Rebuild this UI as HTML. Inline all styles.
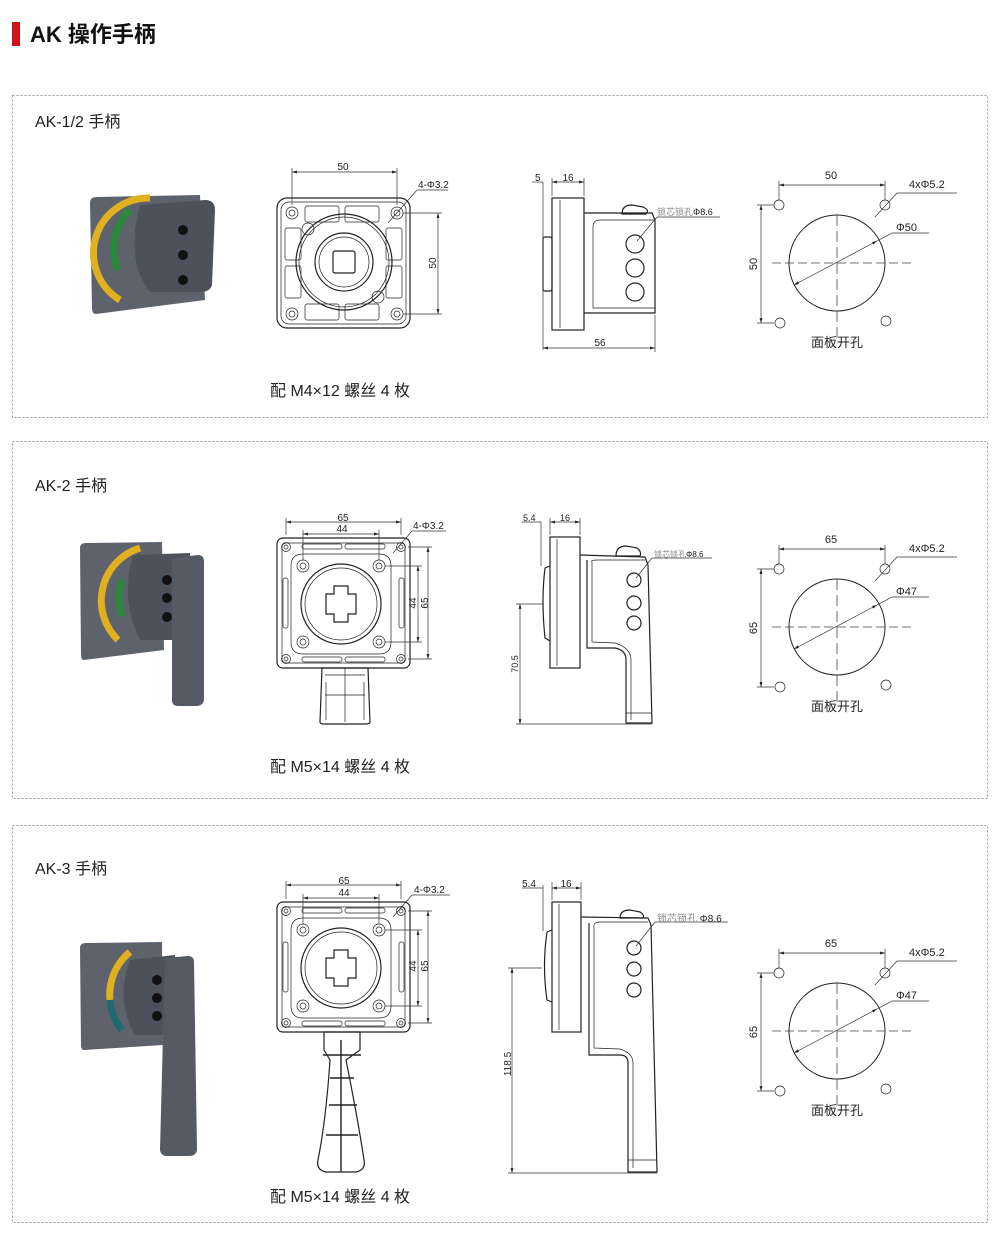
<!DOCTYPE html>
<html><head><meta charset="utf-8"><style>
html,body{margin:0;padding:0;background:#fff;}
svg{display:block;font-family:"Liberation Sans","Noto Sans CJK SC",sans-serif;}
.l{stroke:#222;fill:none;stroke-width:1.2}
.t{stroke:#222;fill:none;stroke-width:0.7}
.d{stroke:#333;fill:none;stroke-width:0.7}
.c{stroke:#444;fill:none;stroke-width:0.8;stroke-dasharray:9 4}
.s{font-size:10px;fill:#222}
.g{font-size:10px;fill:#888}
.cap{font-size:16px;fill:#222}
.ttl{font-size:16px;fill:#222}
.box{fill:none;stroke:#999;stroke-width:1;stroke-dasharray:2 2}
</style></head><body>
<svg width="1000" height="1248" viewBox="0 0 1000 1248">
<defs>
<marker id="a" viewBox="0 0 10 10" refX="10" refY="5" markerWidth="7" markerHeight="7" orient="auto-start-reverse"><path d="M0,2 L10,5 L0,8z" fill="#222"/></marker>
<symbol id="front1" overflow="visible">
 <rect x="0" y="0" width="133" height="130" rx="10" class="l" fill="#fff"/>
 <rect x="4" y="4" width="125" height="122" rx="8" class="t"/>
 <g class="t">
  <circle cx="15" cy="15" r="6"/><circle cx="15" cy="15" r="3"/>
  <circle cx="120" cy="15" r="6"/><circle cx="120" cy="15" r="3"/>
  <circle cx="15" cy="116" r="6"/><circle cx="15" cy="116" r="3"/>
  <circle cx="120" cy="116" r="6"/><circle cx="120" cy="116" r="3"/>
  <circle cx="31" cy="31" r="6"/><circle cx="101" cy="99" r="6"/>
  <rect x="28" y="8" width="34" height="16" rx="2"/><rect x="68" y="8" width="34" height="16" rx="2"/>
  <rect x="28" y="106" width="34" height="16" rx="2"/><rect x="68" y="106" width="34" height="16" rx="2"/>
  <rect x="8" y="30" width="16" height="32" rx="2"/><rect x="8" y="68" width="16" height="32" rx="2"/>
  <rect x="109" y="30" width="16" height="32" rx="2"/><rect x="109" y="68" width="16" height="32" rx="2"/>
 </g>
 <circle cx="67" cy="64" r="48" class="l"/><circle cx="67" cy="64" r="45" class="t"/>
 <circle cx="67" cy="64" r="29" class="l"/><circle cx="67" cy="64" r="25" class="t"/>
 <rect x="56" y="53" width="22" height="22" rx="2" class="l"/>
</symbol>
<symbol id="front2" overflow="visible">
 <rect x="0" y="0" width="133" height="130" rx="6" class="l" fill="#fff"/>
 <rect x="5" y="5" width="123" height="120" rx="4" class="t"/>
 <g class="t">
  <circle cx="9" cy="9" r="4.5"/><circle cx="9" cy="9" r="2"/>
  <circle cx="124" cy="9" r="4.5"/><circle cx="124" cy="9" r="2"/>
  <circle cx="9" cy="121" r="4.5"/><circle cx="9" cy="121" r="2"/>
  <circle cx="124" cy="121" r="4.5"/><circle cx="124" cy="121" r="2"/>
  <circle cx="26" cy="28" r="6"/><circle cx="26" cy="28" r="3"/>
  <circle cx="102" cy="28" r="6"/><circle cx="102" cy="28" r="3"/>
  <circle cx="26" cy="104" r="6"/><circle cx="26" cy="104" r="3"/>
  <circle cx="102" cy="104" r="6"/><circle cx="102" cy="104" r="3"/>
  <path d="M26,16 L102,16 Q114,16 114,28 L114,104 Q114,116 102,116 L26,116 Q14,116 14,104 L14,28 Q14,16 26,16z"/>
  <rect x="25" y="6" width="40" height="5" rx="2"/><rect x="68" y="6" width="40" height="5" rx="2"/>
  <rect x="25" y="119" width="40" height="5" rx="2"/><rect x="68" y="119" width="40" height="5" rx="2"/>
  <rect x="6" y="40" width="5" height="50" rx="2"/><rect x="122" y="40" width="5" height="50" rx="2"/>
 </g>
 <circle cx="64" cy="66" r="40" class="l"/><circle cx="64" cy="66" r="36" class="t"/>
 <path d="M57,48 h14 v8 h8 v20 h-8 v8 h-14 v-8 h-8 v-20 h8z" class="l"/>
</symbol>
<symbol id="cut" overflow="visible">
 <circle cx="0" cy="0" r="48" class="t" style="stroke-width:1"/>
 <line x1="-65" y1="0" x2="75" y2="0" class="c"/><line x1="0" y1="-48" x2="0" y2="78" class="c" style="stroke-dasharray:11 5"/>
 <circle cx="-58" cy="-58" r="5" class="t"/><circle cx="48" cy="-58" r="5" class="t"/>
 <circle cx="-57" cy="60" r="5" class="t"/><circle cx="49" cy="58" r="5" class="t"/>
 <line x1="-43" y1="22" x2="40" y2="-22" class="d" marker-start="url(#a)" marker-end="url(#a)"/>
 <line x1="40" y1="-22" x2="55" y2="-30" class="d"/>
 <line x1="-58" y1="-63" x2="-58" y2="-82" class="d"/><line x1="48" y1="-63" x2="48" y2="-82" class="d"/>
 <line x1="-58" y1="-78" x2="48" y2="-78" class="d" marker-start="url(#a)" marker-end="url(#a)"/>
 <line x1="-63" y1="-58" x2="-80" y2="-58" class="d"/><line x1="-63" y1="60" x2="-80" y2="60" class="d"/>
 <line x1="-76" y1="-58" x2="-76" y2="60" class="d" marker-start="url(#a)" marker-end="url(#a)"/>
 <line x1="38" y1="-46" x2="60" y2="-70" class="d"/><line x1="60" y1="-70" x2="120" y2="-70" class="d"/>
 <line x1="55" y1="-30" x2="92" y2="-30" class="d"/>
</symbol>
</defs>

<rect x="12" y="22" width="8" height="24" fill="#d0121b"/>
<text x="30" y="42" style="font-size:22px;font-weight:bold;fill:#111">AK 操作手柄</text>

<rect x="12.5" y="95.5" width="975" height="322" class="box"/>
<rect x="12.5" y="441.5" width="975" height="357" class="box"/>
<rect x="12.5" y="825.5" width="975" height="397" class="box"/>

<text x="35" y="127" class="ttl">AK-1/2 手柄</text>
<text x="35" y="491" class="ttl">AK-2 手柄</text>
<text x="35" y="874" class="ttl">AK-3 手柄</text>

<!-- photos -->
<g>
 <path d="M90,203 Q90,197 97,197 L200,195 L205,300 L96,314 Q92,314 92,308z" fill="#5d626c"/>
 <path d="M150,198 A55,55 0 0 0 120,300" stroke="#e0b020" stroke-width="7" fill="none"/>
 <path d="M130,210 A55,55 0 0 0 118,270" stroke="#2a8a3a" stroke-width="7" fill="none"/>
 <path d="M140,205 L205,200 Q215,200 215,210 L212,285 Q210,292 200,292 L150,292 Q125,260 140,205z" fill="#4c515b"/>
 <circle cx="183" cy="230" r="5" fill="#111"/><circle cx="183" cy="255" r="5" fill="#111"/><circle cx="183" cy="280" r="5" fill="#111"/>
</g>
<g>
 <path d="M80,548 Q80,543 86,543 L162,542 L164,650 L84,660 Q81,660 81,655z" fill="#5d626c"/>
 <path d="M140,548 A55,55 0 0 0 118,640" stroke="#e0b020" stroke-width="7" fill="none"/>
 <path d="M122,580 A55,55 0 0 0 122,616" stroke="#2a8a3a" stroke-width="7" fill="none"/>
 <path d="M133,555 L190,553 L190,640 L140,640 Q120,600 133,555z" fill="#4c515b"/>
 <path d="M172,558 L198,555 Q204,555 204,562 L204,700 Q203,706 196,706 L178,706 Q172,706 172,700z" fill="#555a64"/>
 <circle cx="167" cy="580" r="5" fill="#111"/><circle cx="167" cy="598" r="5" fill="#111"/><circle cx="167" cy="617" r="5" fill="#111"/>
</g>
<g>
 <path d="M80,948 Q80,943 86,943 L162,942 L163,1045 L84,1050 Q81,1050 81,1045z" fill="#5d626c"/>
 <path d="M130,952 A55,55 0 0 0 110,1000" stroke="#e0b020" stroke-width="7" fill="none"/>
 <path d="M110,1000 A55,55 0 0 0 122,1030" stroke="#1f6a70" stroke-width="7" fill="none"/>
 <path d="M130,960 L175,955 L175,1035 L135,1035 Q115,1000 130,960z" fill="#4c515b"/>
 <path d="M165,958 L188,956 Q194,956 194,962 L197,1150 Q196,1156 189,1156 L167,1156 Q161,1156 160,1150z" fill="#555a64"/>
 <circle cx="157" cy="980" r="5" fill="#111"/><circle cx="157" cy="998" r="5" fill="#111"/><circle cx="157" cy="1016" r="5" fill="#111"/>
</g>

<!-- ROW 1 front -->
<use href="#front1" x="277" y="198"/>
<g class="d">
 <line x1="292" y1="205" x2="292" y2="168"/><line x1="397" y1="205" x2="397" y2="168"/>
 <line x1="292" y1="172" x2="397" y2="172" marker-start="url(#a)" marker-end="url(#a)"/>
 <line x1="403" y1="213" x2="442" y2="213"/><line x1="403" y1="314" x2="442" y2="314"/>
 <line x1="438" y1="213" x2="438" y2="314" marker-start="url(#a)" marker-end="url(#a)"/>
 <line x1="388" y1="223" x2="417" y2="190"/><line x1="417" y1="190" x2="448" y2="190"/>
</g>
<text x="343" y="170" class="s" text-anchor="middle">50</text>
<text x="418" y="188" class="s">4-Φ3.2</text>
<text x="0" y="0" class="s" text-anchor="middle" transform="translate(436,263) rotate(-90)">50</text>

<!-- ROW 1 side -->
<g class="l">
 <rect x="552" y="198" width="32" height="132" fill="#fff"/><line x1="560" y1="200" x2="560" y2="328" class="t"/>
 <rect x="543" y="237" width="9" height="54" rx="2"/>
 <path d="M584,213 L652,213 L655,220 L655,313 L584,313"/>
 <path d="M593,227 Q593,220 600,220 L655,220 M593,227 L593,308 L655,308" class="t"/>
 <path d="M622,214 Q622,205 632,205 L643,207 Q650,210 646,214z"/>
 <circle cx="635" cy="244" r="9"/><circle cx="635" cy="268" r="9"/><circle cx="635" cy="292" r="9"/>
</g>
<g class="d">
 <line x1="543" y1="235" x2="543" y2="350"/><line x1="552" y1="196" x2="552" y2="178"/><line x1="584" y1="196" x2="584" y2="178"/>
 <line x1="543" y1="182" x2="543" y2="236"/><line x1="532" y1="182" x2="543" y2="182"/><line x1="552" y1="182" x2="584" y2="182" marker-start="url(#a)" marker-end="url(#a)"/>
 <line x1="655" y1="315" x2="655" y2="352"/><line x1="543" y1="348" x2="655" y2="348" marker-start="url(#a)" marker-end="url(#a)"/>
 <line x1="637" y1="241" x2="657" y2="217"/><line x1="657" y1="217" x2="720" y2="217"/>
</g>
<text x="535" y="181" class="s">5</text><text x="568" y="181" class="s" text-anchor="middle">16</text>
<text x="600" y="346" class="s" text-anchor="middle">56</text>
<text x="657" y="215" class="g" style="font-size:9px">锁芯锁孔<tspan fill="#222">Φ8.6</tspan></text>

<!-- ROW 1 cutout -->
<use href="#cut" x="837" y="263"/>
<text x="831" y="179" class="s" text-anchor="middle" style="font-size:11px">50</text>
<text x="909" y="188" class="s" style="font-size:11px">4xΦ5.2</text>
<text x="896" y="231" class="s" style="font-size:11px">Φ50</text>
<text x="0" y="0" class="s" text-anchor="middle" style="font-size:11px" transform="translate(757,264) rotate(-90)">50</text>
<text x="837" y="347" text-anchor="middle" style="font-size:13px;fill:#222">面板开孔</text>
<text x="270" y="396" class="cap">配 M4×12 螺丝 4 枚</text>

<!-- ROW 2 front -->
<path d="M322,668 L368,668 L370,722 Q370,724 366,724 L324,724 Q320,724 320,722z" class="l" fill="#fff"/>
<path d="M325,675 h40 M345,668 v54 M325,695 h40 M326,682 v38 M364,682 v38" class="t"/>
<use href="#front2" x="277" y="538"/>
<g class="d">
 <line x1="286" y1="535" x2="286" y2="518"/><line x1="401" y1="535" x2="401" y2="518"/>
 <line x1="286" y1="522" x2="401" y2="522" marker-start="url(#a)" marker-end="url(#a)"/>
 <line x1="303" y1="560" x2="303" y2="530"/><line x1="379" y1="560" x2="379" y2="530"/>
 <line x1="303" y1="534" x2="379" y2="534" marker-start="url(#a)" marker-end="url(#a)"/>
 <line x1="408" y1="547" x2="432" y2="547"/><line x1="408" y1="659" x2="432" y2="659"/>
 <line x1="428" y1="547" x2="428" y2="659" marker-start="url(#a)" marker-end="url(#a)"/>
 <line x1="385" y1="566" x2="422" y2="566"/><line x1="385" y1="642" x2="422" y2="642"/>
 <line x1="418" y1="566" x2="418" y2="642" marker-start="url(#a)" marker-end="url(#a)"/>
 <line x1="393" y1="553" x2="412" y2="531"/><line x1="412" y1="531" x2="446" y2="531"/>
</g>
<text x="343" y="521" class="s" text-anchor="middle">65</text><text x="342" y="532" class="s" text-anchor="middle">44</text>
<text x="413" y="529" class="s">4-Φ3.2</text>
<text x="0" y="0" class="s" text-anchor="middle" transform="translate(416,603) rotate(-90)">44</text>
<text x="0" y="0" class="s" text-anchor="middle" transform="translate(428,603) rotate(-90)">65</text>

<!-- ROW 2 side -->
<g class="l">
 <rect x="550" y="537" width="30" height="131" fill="#fff"/><line x1="557" y1="539" x2="557" y2="666" class="t"/>
 <path d="M550,566 L545,568 Q541,600 545,638 L550,641"/>
 <path d="M580,555 L645,557 L648,565 L652,723 L626,723 L626,660 Q626,650 615,648 L587,648 L587,560"/>
 <path d="M592,562 Q590,560 598,560 L645,560 M592,562 L592,642 L615,643 Q631,648 631,660 L631,720 M626,713 h26" class="t"/>
 <path d="M616,556 Q616,546 626,546 L637,548 Q642,552 640,556z"/>
 <circle cx="634" cy="580" r="7"/><circle cx="634" cy="603" r="7"/><circle cx="634" cy="623" r="7"/>
</g>
<g class="d">
 <line x1="541" y1="522" x2="541" y2="566"/><line x1="550" y1="535" x2="550" y2="518"/><line x1="580" y1="535" x2="580" y2="518"/>
 <line x1="522" y1="522" x2="541" y2="522"/><line x1="550" y1="522" x2="580" y2="522" marker-start="url(#a)" marker-end="url(#a)"/>
 <line x1="516" y1="604" x2="543" y2="604"/><line x1="516" y1="724" x2="652" y2="724"/>
 <line x1="520" y1="604" x2="520" y2="724" marker-start="url(#a)" marker-end="url(#a)"/>
 <line x1="636" y1="578" x2="652" y2="558"/><line x1="652" y1="558" x2="712" y2="558"/>
</g>
<text x="523" y="521" class="s" style="font-size:9px">5.4</text><text x="565" y="521" class="s" style="font-size:9px" text-anchor="middle">16</text>
<text x="0" y="0" class="s" style="font-size:9px" text-anchor="middle" transform="translate(518,664) rotate(-90)">70.5</text>
<text x="654" y="557" class="g" style="font-size:8px">锁芯锁孔<tspan fill="#222">Φ8.6</tspan></text>

<!-- ROW 2 cutout -->
<use href="#cut" x="837" y="627"/>
<text x="831" y="543" class="s" text-anchor="middle" style="font-size:11px">65</text>
<text x="909" y="552" class="s" style="font-size:11px">4xΦ5.2</text>
<text x="896" y="595" class="s" style="font-size:11px">Φ47</text>
<text x="0" y="0" class="s" text-anchor="middle" style="font-size:11px" transform="translate(757,628) rotate(-90)">65</text>
<text x="837" y="711" text-anchor="middle" style="font-size:13px;fill:#222">面板开孔</text>
<text x="270" y="772" class="cap">配 M5×14 螺丝 4 枚</text>

<!-- ROW 3 front -->
<path d="M324,1032 L360,1032 L360,1050 L346,1060 Q358,1120 364,1160 Q366,1170 356,1172 L326,1172 Q316,1170 318,1160 Q326,1120 330,1060 L324,1050z" class="l" fill="#fff"/>
<path d="M341,1040 v132 M330,1078 h24 M329,1105 h28 M326,1135 h32 M323,1055 h38" class="t" style="stroke-width:1.4"/>
<use href="#front2" x="277" y="902"/>
<g class="d">
 <line x1="286" y1="899" x2="286" y2="881"/><line x1="401" y1="899" x2="401" y2="881"/>
 <line x1="286" y1="885" x2="401" y2="885" marker-start="url(#a)" marker-end="url(#a)"/>
 <line x1="303" y1="924" x2="303" y2="894"/><line x1="379" y1="924" x2="379" y2="894"/>
 <line x1="303" y1="898" x2="379" y2="898" marker-start="url(#a)" marker-end="url(#a)"/>
 <line x1="408" y1="911" x2="432" y2="911"/><line x1="408" y1="1023" x2="432" y2="1023"/>
 <line x1="428" y1="911" x2="428" y2="1023" marker-start="url(#a)" marker-end="url(#a)"/>
 <line x1="385" y1="930" x2="422" y2="930"/><line x1="385" y1="1006" x2="422" y2="1006"/>
 <line x1="418" y1="930" x2="418" y2="1006" marker-start="url(#a)" marker-end="url(#a)"/>
 <line x1="393" y1="917" x2="412" y2="895"/><line x1="412" y1="895" x2="450" y2="895"/>
</g>
<text x="344" y="884" class="s" text-anchor="middle">65</text><text x="344" y="896" class="s" text-anchor="middle">44</text>
<text x="414" y="893" class="s">4-Φ3.2</text>
<text x="0" y="0" class="s" text-anchor="middle" transform="translate(416,966) rotate(-90)">44</text>
<text x="0" y="0" class="s" text-anchor="middle" transform="translate(428,966) rotate(-90)">65</text>

<!-- ROW 3 side -->
<g class="l">
 <rect x="552" y="902" width="29" height="130" fill="#fff"/><line x1="559" y1="904" x2="559" y2="1030" class="t"/>
 <path d="M552,930 L547,932 Q542,966 547,1000 L552,1002"/>
 <path d="M581,917 L648,918 L651,925 L657,1172 L628,1172 L628,1063 Q628,1055 620,1055 L589,1055 L589,923"/>
 <path d="M594,927 Q593,922 600,922 L648,922 M594,927 L594,1048 L620,1049 Q633,1053 633,1063 L633,1168 M628,1160 h29" class="t"/>
 <path d="M620,918 Q620,910 630,910 L640,912 Q645,915 643,918z"/>
 <circle cx="634" cy="948" r="7"/><circle cx="634" cy="969" r="7"/><circle cx="634" cy="990" r="7"/>
</g>
<g class="d">
 <line x1="543" y1="885" x2="543" y2="931"/><line x1="552" y1="900" x2="552" y2="882"/><line x1="581" y1="900" x2="581" y2="882"/>
 <line x1="522" y1="888" x2="543" y2="888"/><line x1="552" y1="888" x2="581" y2="888" marker-start="url(#a)" marker-end="url(#a)"/>
 <line x1="508" y1="968" x2="542" y2="968"/><line x1="508" y1="1173" x2="657" y2="1173"/>
 <line x1="512" y1="968" x2="512" y2="1173" marker-start="url(#a)" marker-end="url(#a)"/>
 <line x1="636" y1="946" x2="655" y2="922"/><line x1="655" y1="922" x2="728" y2="922"/>
</g>
<text x="522" y="887" class="s">5.4</text><text x="566" y="887" class="s" text-anchor="middle">16</text>
<text x="0" y="0" class="s" text-anchor="middle" transform="translate(511,1064) rotate(-90)">118.5</text>
<text x="657" y="922" class="g">锁芯锁孔 <tspan fill="#222">Φ8.6</tspan></text>

<!-- ROW 3 cutout -->
<use href="#cut" x="837" y="1031"/>
<text x="831" y="947" class="s" text-anchor="middle" style="font-size:11px">65</text>
<text x="909" y="956" class="s" style="font-size:11px">4xΦ5.2</text>
<text x="896" y="999" class="s" style="font-size:11px">Φ47</text>
<text x="0" y="0" class="s" text-anchor="middle" style="font-size:11px" transform="translate(757,1032) rotate(-90)">65</text>
<text x="837" y="1115" text-anchor="middle" style="font-size:13px;fill:#222">面板开孔</text>
<text x="270" y="1202" class="cap">配 M5×14 螺丝 4 枚</text>
</svg>
</body></html>
